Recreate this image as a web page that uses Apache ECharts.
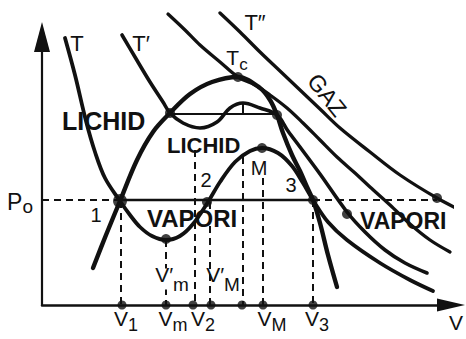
<!DOCTYPE html>
<html>
<head>
<meta charset="utf-8">
<script src="https://cdn.jsdelivr.net/npm/echarts@6/dist/echarts.min.js"></script>
<style>
  html, body { margin: 0; padding: 0; background: #fff; }
  #chart { width: 466px; height: 339px; }
</style>
</head>
<body>
<div id="chart"></div>
<script>
// Points are [V, P] in drawing units: V measured along the volume axis, P up the pressure axis.

// Isotherm T (below the critical temperature)
const isothermT = [[23,267],[33,230],[44,184],[53,153],[63,127],[78,104],[88,90],[98,78],[110,69],[124,65],
  [138,69],[151,81],[166,103],[178,123],[193,143],[208,154],[220,157],[236,152],[250,139],[261,122],
  [271,105],[286,83],[305,65],[338,42],[368,25],[391,14]];
// Isotherm T′
const isothermT1 = [[80,270],[93,248],[108,223],[121,203],[128,192],[141,182],[158,177],[175,183],[188,197],
  [201,202],[218,197],[235,190],[246,174],[258,158],[278,131],[305,93],[323,73],[343,55],[363,42],[385,32]];
// Critical isotherm Tc
const isothermTc = [[126,291],[143,275],[158,260],[178,243],[196,228],[213,220],[228,210],[245,197],[261,182],
  [278,165],[295,148],[313,132],[328,118],[348,100],[368,81],[388,65],[408,53]];
// Isotherm T″ (gas)
const isothermT2 = [[178,292],[198,273],[218,253],[238,234],[258,215],[278,196],[298,177],[328,153],[358,130],
  [395,107],[424,92]];
// Saturation curve through the critical point
const saturationCurve = [[51,37],[64,70],[78,104],[95,145],[111,173],[128,192],[148,211],[170,223],[196,228],
  [218,217],[228,205],[235,190],[241,172],[250,150],[258,134],[265,118],[271,105],[278,82],[286,50],[295,18]];

// Saturation pressure P0 and where the P0 line changes style: V1, V3, end
const pressureP0 = 105;
const p0Breaks = [0, 78, 271, 395];
// Equal-pressure plateau of isotherm T′ and its marker
const plateauT1 = [128, 235, 191];
const plateauMarkV = [201, 202];

// Marked states on the curves
const markedPoints = [[78,104],[124,66],[165,103],[128,192],[196,228],[235,190],[220,157],[271,105],[305,91],[395,107]];
// Volumes marked on the V axis
const axisPoints = [80, 124, 151, 169, 200, 221, 271];
// Vertical guides [V, top P]
const dropLines = [[79,104],[124,65],[153,155],[168,103],[201,148],[221,127],[271,105]];
// Tick labels on the V axis
const tickMain = ['V', 'V', 'V', 'V', 'V'];
const tickSub = ['1', 'm', '2', 'M', '3'];
const tickAt = [84, 131, 161, 230, 275];

const ink = '#111';
const font = '"Liberation Sans", Arial, Helvetica, sans-serif';

const chart = echarts.init(document.getElementById('chart'), null, { renderer: 'svg' });

function curve(data, width) {
  return {
    type: 'line', data: data, smooth: 0.35, symbol: 'none', clip: false, silent: true,
    lineStyle: { color: ink, width: width, cap: 'round', join: 'round' }, z: 3
  };
}
function segment(data, width, dashed) {
  return {
    type: 'line', data: data, symbol: 'none', clip: false, silent: true,
    lineStyle: { color: ink, width: width, type: dashed ? [7, 5] : 'solid' }, z: 2
  };
}

const series = [
  curve(isothermT, 3.8),
  curve(isothermT1, 3.6),
  curve(isothermTc, 3.3),
  curve(isothermT2, 3.3),
  curve(saturationCurve, 4.4),
  segment([[p0Breaks[0], pressureP0], [p0Breaks[1], pressureP0]], 2.2, true),
  segment([[p0Breaks[1], pressureP0], [p0Breaks[2], pressureP0]], 2.4, false),
  segment([[p0Breaks[2], pressureP0], [p0Breaks[3], pressureP0]], 2.2, true),
  segment([[plateauT1[0], plateauT1[2]], [plateauT1[1], plateauT1[2]]], 2.2, false),
  segment([[plateauMarkV[0], plateauT1[2]], [plateauMarkV[0], plateauMarkV[1]]], 2, false)
];
dropLines.forEach(function (d) {
  series.push(segment([[d[0], d[1]], [d[0], 0]], 2, true));
});
series.push({
  type: 'scatter', data: markedPoints, clip: false, silent: true, z: 5,
  symbolSize: function (v, p) { return p.dataIndex === 0 ? 14 : 10; },
  itemStyle: { color: ink }
});
series.push({
  type: 'scatter', data: axisPoints.map(function (v) { return [v, 0]; }), clip: false, silent: true, z: 5,
  symbolSize: 9, itemStyle: { color: ink }
});

function txt(x, y, text, size, weight, extra) {
  return {
    type: 'text', x: x, y: y, z: 100, silent: true,
    style: Object.assign({
      text: text, fill: ink, font: (weight || 'normal') + ' ' + size + 'px ' + font,
      align: 'center', verticalAlign: 'middle'
    }, extra || {})
  };
}
function subRich(mainSize, subSize, drop) {
  return {
    a: { fontSize: mainSize, lineHeight: mainSize, fontFamily: font, fill: ink, color: ink, padding: [0, 0, drop, 0] },
    b: { fontSize: subSize, lineHeight: mainSize, fontFamily: font, fill: ink, color: ink, padding: [drop, 0, 0, 0] }
  };
}

const graphics = [
  txt(77, 43, 'T', 22),
  txt(141, 43, 'T\u2032', 22),
  txt(255, 22, 'T\u2033', 22),
  txt(237, 61, '{a|T}{b|c}', 20, 'normal', { rich: subRich(21, 17, 7) }),
  Object.assign(txt(327, 95, 'GAZ', 23), { rotation: -0.9 }),
  txt(62, 121, 'LICHID', 25, 'bold', { align: 'left' }),
  txt(167, 145, 'LICHID', 22, 'bold', { align: 'left' }),
  txt(147, 218, 'VAPORI', 24, 'bold', { align: 'left' }),
  txt(360, 221, 'VAPORI', 23, 'bold', { align: 'left' }),
  txt(96, 215, '1', 20),
  txt(206, 180, '2', 20),
  txt(291, 185, '3', 20),
  txt(259, 168, 'M', 20),
  txt(172, 279, '{a|V\u2032}{b|m}', 20, 'normal', { backgroundColor: '#fff', rich: subRich(21, 19, 10) }),
  txt(223, 279, '{a|V\u2032}{b|M}', 20, 'normal', { rich: subRich(21, 19, 10) })
];

chart.setOption({
  animation: false,
  backgroundColor: '#fff',
  grid: { left: 42, right: 15, top: 37, bottom: 34, outerBoundsMode: 'none' },
  xAxis: {
    type: 'value', min: 0, max: 409,
    name: 'V', nameLocation: 'end', nameGap: 5,
    nameTextStyle: { fontSize: 21, fontFamily: font, color: ink, align: 'center', verticalAlign: 'top', padding: [7, 0, 0, 0] },
    axisLine: { show: true, onZero: false, symbol: ['none', 'triangle'], symbolSize: [13, 28], lineStyle: { color: ink, width: 2.5 } },
    axisTick: { show: false },
    splitLine: { show: false },
    axisLabel: {
      customValues: tickAt, margin: 6, color: ink,
      formatter: function (v) {
        const i = tickAt.indexOf(v);
        return i < 0 ? '' : '{a|' + tickMain[i] + '}{b|' + tickSub[i] + '}';
      },
      rich: subRich(21, 18, 7)
    }
  },
  yAxis: {
    type: 'value', min: 0, max: 268,
    axisLine: { show: true, onZero: false, symbol: ['none', 'triangle'], symbolSize: [16, 30], lineStyle: { color: ink, width: 2.2 } },
    axisTick: { show: false },
    splitLine: { show: false },
    axisLabel: {
      customValues: [pressureP0], margin: 9, color: ink,
      formatter: function () { return '{a|P}{b|o}'; },
      rich: {
        a: { fontSize: 23, lineHeight: 23, fontFamily: font, color: ink, padding: [6, 0, 2, 0] },
        b: { fontSize: 19, lineHeight: 23, fontFamily: font, color: ink, padding: [12, 0, 0, 0] }
      }
    }
  },
  graphic: graphics,
  series: series
});
</script>
</body>
</html>
